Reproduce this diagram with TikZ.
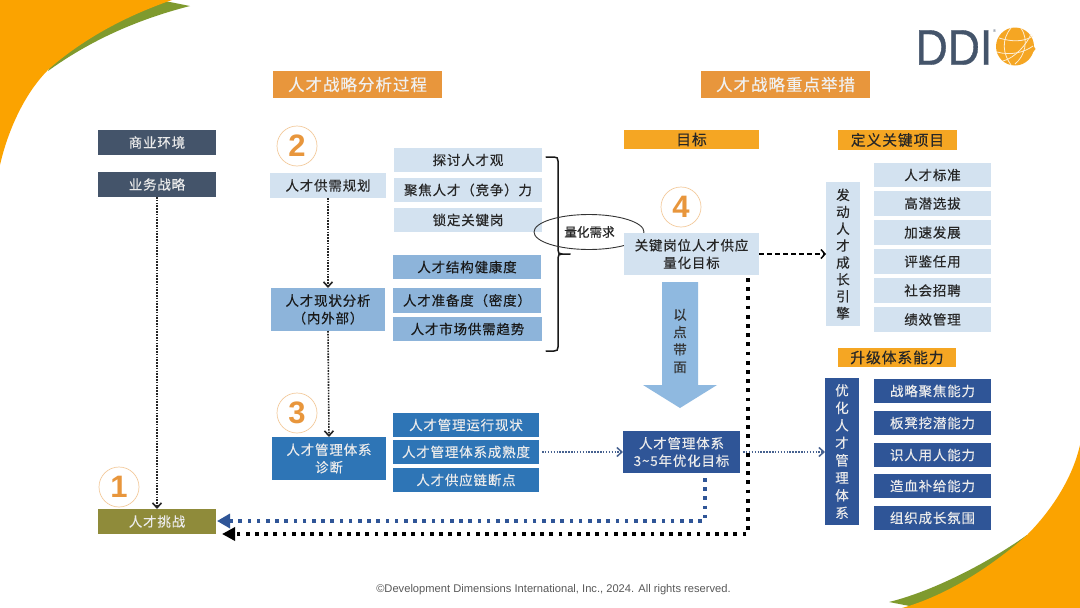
\documentclass[tikz,border=0pt]{standalone}
\usepackage{fontspec}
\setmainfont{Liberation Sans}
\newfontfamily\logof[FakeBold=0.8]{Liberation Sans}
\newfontfamily\cjk[FakeBold=0.3]{Noto Sans CJK SC}
\newfontfamily\cjks[LetterSpace=6,FakeBold=0.3]{Noto Sans CJK SC}
\usetikzlibrary{arrows.meta,calc,shapes.geometric}
\definecolor{slatec}{HTML}{44546A}
\definecolor{olivec}{HTML}{8F8B3A}
\definecolor{orangeh}{HTML}{E8963C}
\definecolor{orangeg}{HTML}{F5A623}
\definecolor{cornero}{HTML}{FBA300}
\definecolor{cornerg}{HTML}{7F9A2E}
\definecolor{lightb}{HTML}{D3E2F0}
\definecolor{midb}{HTML}{8DB4DA}
\definecolor{strongb}{HTML}{2E75B6}
\definecolor{navyb}{HTML}{2F5597}
\definecolor{arrowb}{HTML}{8FB9E0}
\tikzset{
  base/.style={inner sep=0pt,outer sep=0pt,align=center,font=\cjks\fontsize{13.5}{17.5}\selectfont},
  slatebox/.style={base,fill=slatec,text=white!92!black},
  olivebox/.style={base,fill=olivec,text=white!92!black},
  headbox/.style={base,fill=orangeh,text=white!94!black,font=\cjks\fontsize{16.5}{18}\selectfont},
  goalbox/.style={base,fill=orangeg,text=black!85,font=\cjks\fontsize{14.8}{18}\selectfont},
  lightbox/.style={base,fill=lightb,text=black!85},
  midbox/.style={base,fill=midb,text=black!90},
  strongbox/.style={base,fill=strongb,text=white!92!black},
  navybox/.style={base,fill=navyb,text=white!92!black},
  numc/.style={circle,draw=orangeh!50!white,line width=.7pt,minimum size=40pt,inner sep=0pt,text=orangeh,font=\bfseries\fontsize{31}{31}\selectfont},
  thindot/.style={draw=black!85,line width=1.6pt,dash pattern=on 1.6pt off 1.2pt,-{Straight Barb[length=5pt,width=9pt,line width=1.6pt]}},
  bluedot/.style={draw=navyb!70!gray,line width=1.5pt,dash pattern=on 1.5pt off 1.4pt,-{Straight Barb[length=5pt,width=9pt,line width=1.5pt]}},
  dashline/.style={draw=black,line width=1.5pt,dash pattern=on 5pt off 3pt,-{Straight Barb[length=4pt,width=9pt,line width=1.5pt]}},
  heavyk/.style={draw=black,line width=3.8pt,dash pattern=on 3.8pt off 5.4pt,-{Triangle[length=13pt,width=13pt]}},
  heavyb/.style={draw=navyb,line width=3.6pt,dash pattern=on 3.6pt off 5.6pt,-{Triangle[length=13pt,width=14pt]}},
}
\newcommand{\bx}[7]{\node[#6,minimum width={(#4-#2)*1pt},minimum height={(#5-#3)*1pt}] (#1) at ({(#2+#4)/2},{(#3+#5)/2}) {#7};}
\begin{document}
\begin{tikzpicture}[x=1pt,y=-1pt]
\useasboundingbox (0,0) rectangle (1080,608);
\fill[white] (0,0) rectangle (1080,608);
% corners
\fill[cornerg] (190,6) .. controls (135,20) and (88,42) .. (48,71) -- (60,45) -- (160,0) -- cycle;
\fill[cornero] (0,0) -- (172,0) .. controls (120,18) and (80,42) .. (50,68) .. controls (25,92) and (8,130) .. (0,165) -- cycle;
\fill[cornerg] (889,602) .. controls (930,592) and (985,565) .. (1027,535) -- (1040,540) -- (920,608) -- cycle;
\fill[cornero] (1080,608) -- (902,608) .. controls (945,596) and (990,568) .. (1027,535) .. controls (1050,512) and (1072,480) .. (1080,445) -- cycle;
% logo
\node[inner sep=0pt,text=slatec,font=\logof\fontsize{50}{50}\selectfont,xscale=.89,anchor=center] (ddi) at (954,47.5) {DDI};
\node[inner sep=0pt,text=slatec,font=\fontsize{4}{4}\selectfont] (reg) at (994.5,31) {®};
\begin{scope}
\fill[orangeg] (1015,46.5) circle (19);
\fill[orangeg] (1030,40) -- (1035.5,49) -- (1030,56) -- cycle;
\draw[white!80!orangeg,line width=.8pt] (999,38) .. controls (1012,42) and (1024,42) .. (1033,36);
\draw[white!80!orangeg,line width=.8pt] (997,52) .. controls (1011,56) and (1025,52) .. (1033,46);
\draw[white!80!orangeg,line width=.8pt] (1011,28) .. controls (1001,40) and (1003,54) .. (1011,65);
\draw[white!80!orangeg,line width=.8pt] (1021,28) .. controls (1029,40) and (1025,56) .. (1015,64);
\draw[white!80!orangeg,line width=.8pt] (1003,61) .. controls (1015,58) and (1027,44) .. (1031,34);
\end{scope}
% headers
\bx{hA}{273}{71}{442}{98}{headbox}{人才战略分析过程}
\bx{hB}{701}{71}{870}{98}{headbox}{人才战略重点举措}
\bx{hC}{624}{130}{759}{149}{goalbox}{目标}
\bx{hD}{838}{130}{957}{150}{goalbox}{定义关键项目}
\bx{hE}{838}{348}{956}{367}{goalbox}{升级体系能力}
% left column
\bx{env}{98}{130}{216}{155}{slatebox}{商业环境}
\bx{biz}{98}{172}{216}{197}{slatebox}{业务战略}
\bx{chal}{98}{509}{216}{534}{olivebox}{人才挑战}
% numbers
\node[numc] (n1) at (119,487) {1};
\node[numc] (n2) at (297,146) {2};
\node[numc] (n3) at (297,413) {3};
\node[numc] (n4) at (681,207) {4};
% second column
\bx{plan}{270}{173}{386}{198}{lightbox}{人才供需规划}
\bx{stat}{271}{288}{385}{331}{midbox}{人才现状分析\\（内外部）}
\bx{diag}{272}{437}{386}{480}{strongbox}{人才管理体系\\诊断}
% third column
\bx{a1}{394}{148}{542}{172}{lightbox}{探讨人才观}
\bx{a2}{394}{178}{542}{202}{lightbox}{聚焦人才（竞争）力}
\bx{a3}{394}{208}{542}{232}{lightbox}{锁定关键岗}
\bx{b1}{393}{255}{541}{279}{midbox}{人才结构健康度}
\bx{b2}{393}{288}{541}{313}{midbox}{人才准备度（密度）}
\bx{b3}{393}{317}{542}{341}{midbox}{人才市场供需趋势}
\bx{c1}{393}{413}{539}{437}{strongbox}{人才管理运行现状}
\bx{c2}{393}{440}{539}{464}{strongbox}{人才管理体系成熟度}
\bx{c3}{393}{468}{539}{492}{strongbox}{人才供应链断点}
% bracket + ellipse
\draw[black!90,line width=1.5pt,line cap=round] (546,157) -- (554,157) .. controls (557,157) and (558,158) .. (558,161) -- (558,250) .. controls (558,253) and (559,254) .. (562,254) -- (570,254);
\draw[black!90,line width=1.5pt,line cap=round] (546,351) -- (554,351) .. controls (557,351) and (558,350) .. (558,347) -- (558,258) .. controls (558,255) and (559,254) .. (562,254);
\node[ellipse,draw=black!80,line width=.9pt,minimum width=110pt,minimum height=35pt,inner sep=0pt] (need) at (589,232) {};
\node[inner sep=0pt,font=\cjk\fontsize{12.6}{13}\selectfont,text=black!85] (needt) at (589.5,232) {量化需求};
% targets
\bx{kgt}{624}{233}{759}{275}{lightbox}{关键岗位人才供应\\量化目标}
\bx{opt}{623}{431}{740}{473}{navybox}{人才管理体系\\3\textasciitilde 5年优化目标}
% big arrow
\fill[arrowb] (662,282) -- (698,282) -- (698,385) -- (717,385) -- (680,408) -- (643,385) -- (662,385) -- cycle;
\node[base,text=black!80,font=\cjk\fontsize{13.5}{17.5}\selectfont] (bigt) at (680,341) {以\\点\\带\\面};
% right columns
\bx{vA}{826}{182}{860}{326}{lightbox,font=\cjks\fontsize{13.5}{16.9}\selectfont}{发\\动\\人\\才\\成\\长\\引\\擎}
\bx{vB}{825}{378}{859}{525}{navybox}{优\\化\\人\\才\\管\\理\\体\\系}
\bx{r1}{874}{163}{991}{187}{lightbox}{人才标准}
\bx{r2}{874}{191}{991}{216}{lightbox}{高潜选拔}
\bx{r3}{874}{220}{991}{245}{lightbox}{加速发展}
\bx{r4}{874}{249}{991}{274}{lightbox}{评鉴任用}
\bx{r5}{874}{278}{991}{303}{lightbox}{社会招聘}
\bx{r6}{874}{307}{991}{332}{lightbox}{绩效管理}
\bx{s1}{874}{379}{991}{403}{navybox}{战略聚焦能力}
\bx{s2}{874}{411}{991}{435}{navybox}{板凳挖潜能力}
\bx{s3}{874}{443}{991}{467}{navybox}{识人用人能力}
\bx{s4}{874}{474}{991}{498}{navybox}{造血补给能力}
\bx{s5}{874}{506}{991}{530}{navybox}{组织成长氛围}
% connectors
\draw[thindot] (biz.south) -- (chal.north);
\draw[thindot] (plan.south) -- (stat.north);
\draw[thindot] (stat.south) -- (diag.north);
\draw[bluedot] (c2.east) ++(3,0) -- (opt.west);
\draw[bluedot] (opt.east) ++(3,0) -- (vB.west |- opt.east);
\draw[dashline] (kgt.east) -- (vA.west |- kgt.east);
\coordinate (ka) at (748,278);
\coordinate (kb) at (748,534);
\coordinate (kc) at (222,534);
\draw[heavyk] (ka) -- (kb) -- (kc);
\coordinate (ba) at (705,478);
\coordinate (bb) at (705,521);
\coordinate (bc) at (217,521);
\draw[heavyb] (ba) -- (bb) -- (bc);
% footer
\node[inner sep=0pt,text=black!65,font=\fontsize{11.15}{12}\selectfont] (foot) at (553.5,590) {©Development Dimensions International, Inc., 2024. All rights reserved.};
\end{tikzpicture}
\end{document}
